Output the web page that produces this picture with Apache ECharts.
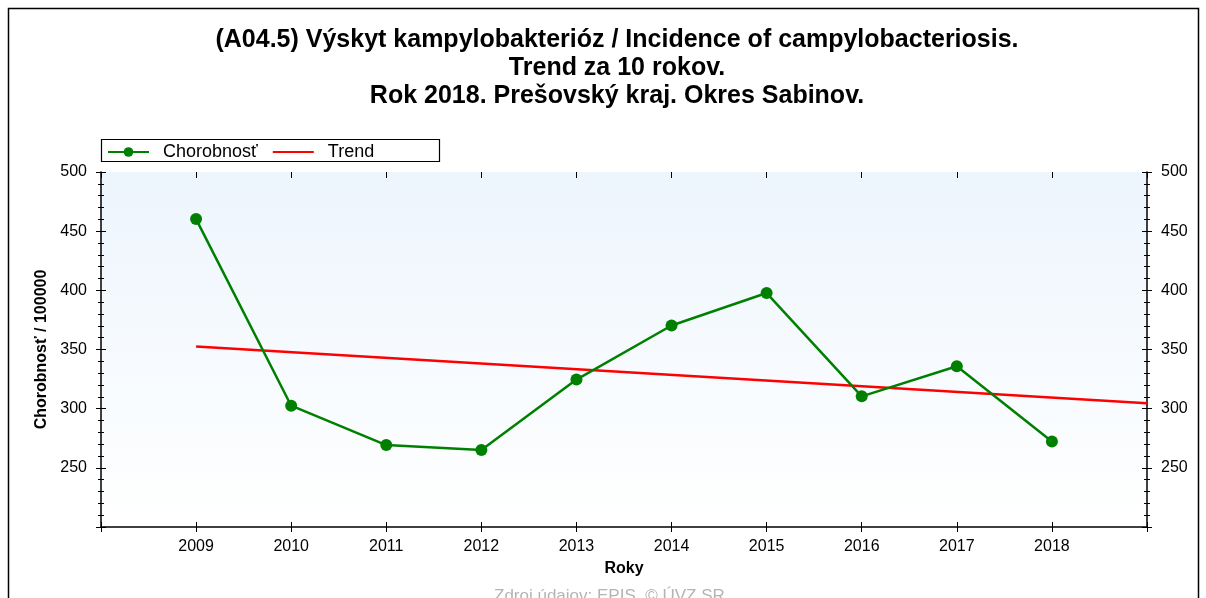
<!DOCTYPE html>
<html lang="sk">
<head>
	<meta charset="UTF-8">
	<title>Chorobnosť</title>
	<style>
		html, body { margin: 0; padding: 0; background: #fff; }
	</style>
</head>
<body>
	<div id="main" style="width: 1206px;height:598px;"></div>
	<script type="text/javascript" src="https://cdn.jsdelivr.net/npm/echarts@6/dist/echarts.min.js"></script>
	<script type="text/javascript">
		// údaje z grafu
		var roky = [2009, 2010, 2011, 2012, 2013, 2014, 2015, 2016, 2017, 2018];
		var chorobnost = [460.2, 302.5, 269.2, 265.0, 324.6, 370.3, 397.7, 310.4, 335.8, 272.3];
		var trendRoky = [2009, 2019];
		var trendHodnoty = [352.5, 304.5];
		var yTicks = [250, 300, 350, 400, 450, 500];

		var font = 'Liberation Sans, Arial, sans-serif';
		var myChart = echarts.init(document.getElementById('main'));

		var dataChor = roky.map(function (r, i) { return [r, chorobnost[i]]; });
		var dataTrend = trendRoky.map(function (r, i) { return [r, trendHodnoty[i]]; });

		function yLabel(v) {
			return yTicks.indexOf(v) >= 0 ? String(v) : '';
		}
		function xLabel(v) {
			return roky.indexOf(v) >= 0 ? String(v) : '';
		}

		// os y - vonkajšie ticky s popismi + vnútorné ticky bez popisov
		function yOs(pos, inside) {
			return {
				type: 'value', min: 200, max: 500, interval: 50, position: pos,
				axisLine: { show: !inside, onZero: false, lineStyle: { color: '#000', width: 1.5 } },
				axisTick: { show: true, inside: inside, length: 5, lineStyle: { color: '#000' } },
				minorTick: { show: true, splitNumber: 5, length: 3, lineStyle: { color: '#000' } },
				axisLabel: { show: !inside, formatter: yLabel, fontFamily: font, fontSize: 16, color: '#000', margin: 14 },
				splitLine: { show: false }
			};
		}

		var yLeft = yOs('left', false);
		yLeft.name = 'Chorobnosť / 100000';
		yLeft.nameLocation = 'middle';
		yLeft.nameGap = 43;
		yLeft.nameTextStyle = { fontFamily: font, fontSize: 16, fontWeight: 'bold', color: '#000' };

		myChart.setOption({
			animation: false,
			backgroundColor: '#fff',
			title: {
				text: '(A04.5) Výskyt kampylobakterióz / Incidence of campylobacteriosis.\nTrend za 10 rokov.\nRok 2018. Prešovský kraj. Okres Sabinov.',
				left: 612,
				textAlign: 'center',
				top: 21,
				textStyle: { fontFamily: font, fontSize: 25, fontWeight: 'bold', color: '#000', lineHeight: 28 }
			},
			legend: {
				left: 102,
				top: 138,
				itemWidth: 41,
				itemHeight: 12,
				itemGap: 14,
				textStyle: { fontFamily: font, fontSize: 18, color: '#000', padding: [0, 0, 0, 9] },
				data: ['Chorobnosť', { name: 'Trend', itemStyle: { opacity: 0 } }]
			},
			grid: {
				left: 101, right: 59, top: 172, bottom: 71,
				show: true, borderWidth: 0,
				backgroundColor: new echarts.graphic.LinearGradient(0, 0, 0, 1, [
					{ offset: 0, color: '#edf5fd' },
					{ offset: 1, color: '#ffffff' }
				])
			},
			xAxis: [{
				type: 'value', min: 2008, max: 2019, interval: 1, position: 'bottom',
				name: 'Roky', nameLocation: 'middle', nameGap: 34,
				nameTextStyle: { fontFamily: font, fontSize: 16, fontWeight: 'bold', color: '#000' },
				axisLine: { onZero: false, lineStyle: { color: '#000', width: 1.5 } },
				axisTick: { length: 5, lineStyle: { color: '#000' } },
				axisLabel: { formatter: xLabel, fontFamily: font, fontSize: 16, color: '#000', margin: 12 },
				splitLine: { show: false }
			}, {
				type: 'value', min: 2008, max: 2019, interval: 1, position: 'bottom',
				axisLine: { show: false },
				axisTick: { inside: true, length: 5, lineStyle: { color: '#000' } },
				axisLabel: { show: false },
				splitLine: { show: false }
			}, {
				type: 'value', min: 2008, max: 2019, interval: 1, position: 'top',
				axisLine: { show: false },
				axisTick: { inside: true, length: 6, lineStyle: { color: '#000' } },
				axisLabel: { show: false },
				splitLine: { show: false }
			}],
			yAxis: [yLeft, yOs('right', false), yOs('left', true), yOs('right', true)],
			series: [{
				name: 'Chorobnosť',
				type: 'line',
				data: dataChor,
				symbol: 'circle',
				symbolSize: 12,
				itemStyle: { color: '#008000' },
				lineStyle: { color: '#008000', width: 2.5 },
				z: 3
			}, {
				name: 'Trend',
				type: 'line',
				data: dataTrend,
				symbol: 'none',
				itemStyle: { color: 'transparent' },
				lineStyle: { color: '#ff0000', width: 2.5 },
				z: 2
			}],
			graphic: [
				{ type: 'rect', shape: { x: 8.5, y: 8.5, width: 1190, height: 600 }, style: { fill: 'none', stroke: '#000', lineWidth: 1.5 }, silent: true },
				{ type: 'rect', shape: { x: 101.5, y: 139.5, width: 338, height: 22 }, style: { fill: 'none', stroke: '#000', lineWidth: 1.2 }, silent: true },
				{ type: 'text', left: 494, top: 588, style: { text: 'Zdroj údajov: EPIS, © ÚVZ SR', fontFamily: font, fontSize: 17, fill: '#b4b4b4' }, silent: true }
			]
		});
	</script>
</body>
</html>
